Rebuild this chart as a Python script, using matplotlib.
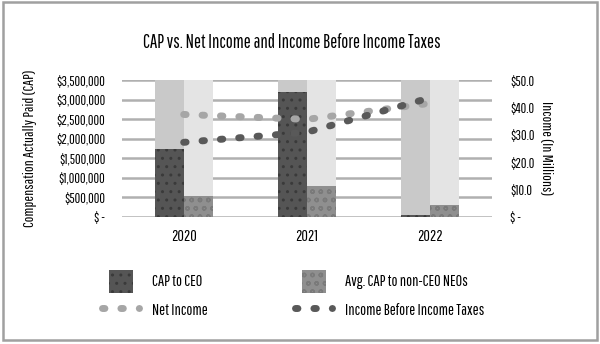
import matplotlib.pyplot as plt
import matplotlib.patches as mpatches
from matplotlib.legend_handler import HandlerPatch
from matplotlib.lines import Line2D
import numpy as np

plt.rcParams['font.family'] = ['Pathway Gothic One', 'Oswald', 'Roboto Condensed', 'DejaVu Sans']

# data
years = ['2020', '2021', '2022']
cap_ceo = [1730000, 3190000, 40000]
cap_neo = [530000, 790000, 300000]
net_income = [37.4, 35.6, 41.5]
income_before_tax = [27.2, 30.9, 43.5]

fig = plt.figure(figsize=(6, 3.44), dpi=100)
ax = fig.add_axes([122 / 600, 1 - 216.7 / 344, 370 / 600, 136.7 / 344])
ax2 = ax.twinx()

x = np.arange(len(years))
w = 0.235
ymax = 3500000
dots = (0, (0.35, 2.3))

# background columns
ax.bar(x - w / 2, [ymax] * len(years), w, color='#c9c9c9', zorder=1)
ax.bar(x + w / 2, [ymax] * len(years), w, color='#e4e4e4', zorder=1)

ax.bar(x - w / 2, cap_ceo, w, color='#555555', hatch='..', edgecolor='#3a3a3a', linewidth=0, zorder=3)
ax.bar(x + w / 2, cap_neo, w, color='#8f8f8f', hatch='oo', edgecolor='#7a7a7a', linewidth=0, zorder=3)

ax.set_ylim(0, ymax)
ax.set_xlim(-0.5, 2.5)
ticks = np.arange(0, ymax + 1, 500000)
ax.set_yticks(ticks)
ax.set_yticklabels(['$ -'] + [f'${t:,.0f}' for t in ticks[1:]])
ax.grid(axis='y', color='#b0b0b0', linewidth=1.8, zorder=0)
ax.set_axisbelow(True)
ax.set_xticks(x)
ax.tick_params(axis='both', length=0)
ax.tick_params(axis='y', pad=12, labelsize=10)
ax.tick_params(axis='x', pad=9, labelsize=11.5)
ax.set_xticklabels(years)
for s in ax.spines.values():
    s.set_visible(False)
for s in ax2.spines.values():
    s.set_visible(False)

ax2.plot(x, net_income, color='#a6a6a6', linewidth=5, linestyle=dots,
         dash_capstyle='round', zorder=5)
ax2.plot(x, income_before_tax, color='#595959', linewidth=5, linestyle=dots,
         dash_capstyle='round', zorder=5)
ax2.set_ylim(0, 50)
rticks = np.arange(0, 51, 10)
ax2.set_yticks(rticks)
ax2.set_yticklabels(['$ -'] + [f'${t:.1f}' for t in rticks[1:]])
ax2.tick_params(axis='y', length=0, labelsize=10, pad=13)

ax.set_ylabel('Compensation Actually Paid (CAP)', fontsize=11, labelpad=14)
ax2.set_ylabel('Income (In Millions)', fontsize=11, rotation=270, labelpad=14)

fig.text(292 / 600, 1 - 43 / 344, 'CAP vs. Net Income and Income Before Income Taxes',
         ha='center', va='center', fontsize=13.5)


def square(legend, orig_handle, xdescent, ydescent, width, height, fontsize):
    side = width * 0.65
    return mpatches.Rectangle((-xdescent + (width - side) / 2, -ydescent - 2), side, height + 4)


handles = [
    mpatches.Patch(facecolor='#555555', hatch='..', edgecolor='#3a3a3a', linewidth=0),
    Line2D([], [], color='#a6a6a6', linewidth=5, linestyle=dots, dash_capstyle='round'),
    mpatches.Patch(facecolor='#8f8f8f', hatch='oo', edgecolor='#7a7a7a', linewidth=0),
    Line2D([], [], color='#595959', linewidth=5, linestyle=dots, dash_capstyle='round'),
]
labels = ['CAP to CEO', 'Net Income', 'Avg. CAP to non-CEO NEOs', 'Income Before Income Taxes']
fig.legend(handles, labels, ncol=2, loc='upper left', bbox_to_anchor=(88 / 600, 1 - 258 / 344),
           frameon=False, fontsize=11.5, handlelength=2.3, handleheight=1.3,
           columnspacing=5.5, labelspacing=0.7, handletextpad=0.8,
           handler_map={mpatches.Patch: HandlerPatch(patch_func=square)})

fig.add_artist(mpatches.Rectangle((3 / 600, 4 / 344), 594 / 600, 338 / 344,
                                  transform=fig.transFigure, fill=False,
                                  edgecolor='#a0a0a0', linewidth=1.8))

fig.savefig('out.png', dpi=100)
